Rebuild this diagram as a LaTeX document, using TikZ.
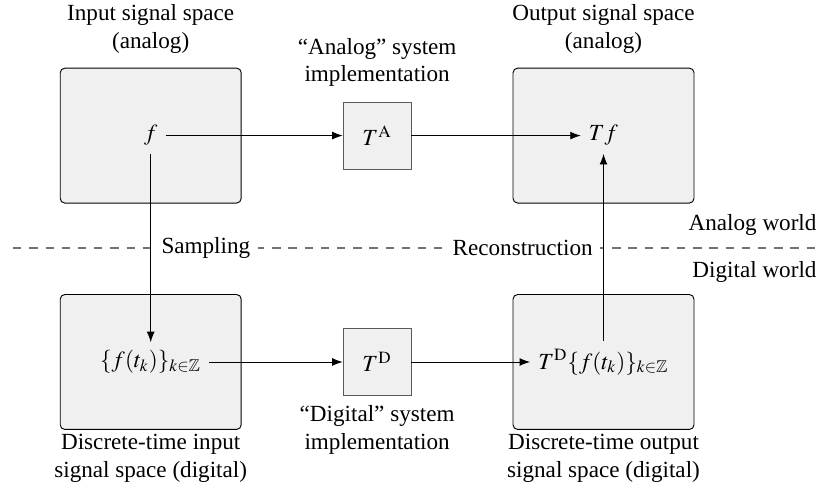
\documentclass[tikz,border=0pt]{standalone}
\usepackage{amssymb}
\usepackage{mathptmx}
\usepackage{fontspec}
\setmainfont{Liberation Serif}
\usetikzlibrary{arrows.meta,calc}
\definecolor{Space}{RGB}{240, 240, 240}
\definecolor{Border}{RGB}{90, 90, 90}

\begin{document}
\begin{tikzpicture}[
    sigspace/.style={draw, fill=Space, rounded corners=2pt, minimum width=2.75cm, minimum height=2.05cm},
    sysbox/.style={draw=Border, fill=Space, minimum width=1.03cm, minimum height=1.02cm},
    conn/.style={-{Latex[length=1.6mm, width=1.2mm]}},
    world/.style={dash pattern=on 3.6pt off 3.4pt, semithick, Border!85}
]
    %%Background
    \useasboundingbox (0,0) rectangle (12.52,7.52);

    %% Signal spaces
    \node[sigspace] (inbox) at (2.29,5.46) {};
    \node[sigspace] (outbox) at (9.17,5.46) {};
    \node[sigspace] (dinbox) at (2.29,2.02) {};
    \node[sigspace] (doutbox) at (9.17,2.02) {};

    %% Systems
    \node[sysbox] (TA) at (5.73,5.46) {$T^{\mathrm{A}}$};
    \node[sysbox] (TD) at (5.73,2.02) {$T^{\mathrm{D}}$};

    %% Signals
    \node (f) at (2.29,5.46) {$f$};
    \node (Tf) at (9.17,5.46) {$Tf$};
    \node (samp) at (2.29,2.02) {$\{f(t_k)\}_{k\in\mathbb{Z}}$};
    \node (dout) at (9.17,2.02) {$T^{\mathrm{D}}\{f(t_k)\}_{k\in\mathbb{Z}}$};

    %% Worlds
    \draw[world] (0.2,3.75) to (12.47,3.75);
    \node[anchor=east] (analog) at (12.53,4.10) {Analog world};
    \node[anchor=east] (digital) at (12.53,3.39) {Digital world};

    %% Connectors
    \draw[conn] (f) to (TA);
    \draw[conn] (TA) to (Tf);
    \draw[conn] (samp) to (TD);
    \draw[conn] (TD) to (dout);
    \draw[conn] (f.south) to (f.south |- samp.north);
    \draw[conn] (dout.north -| Tf.south) to (Tf.south);
    \node[fill=white, anchor=west] (sampling) at ($(f.south |- 0,3.75)+(0.04,0)$) {Sampling};
    \node[fill=white, anchor=east] (recon) at ($(Tf.south |- 0,3.75)+(-0.04,0)$) {Reconstruction};

    %% Labels
    \node[align=center] (inlab) at (2.29,7.08) {Input signal space\\(analog)};
    \node[align=center] (outlab) at (9.17,7.08) {Output signal space\\(analog)};
    \node[align=center] (TAlab) at (5.73,6.57) {``Analog'' system\\implementation};
    \node[align=center] (TDlab) at (5.73,0.99) {``Digital'' system\\implementation};
    \node[align=center] (dinlab) at (2.29,0.56) {Discrete-time input\\signal space (digital)};
    \node[align=center] (doutlab) at (9.17,0.56) {Discrete-time output\\signal space (digital)};
\end{tikzpicture}
\end{document}
